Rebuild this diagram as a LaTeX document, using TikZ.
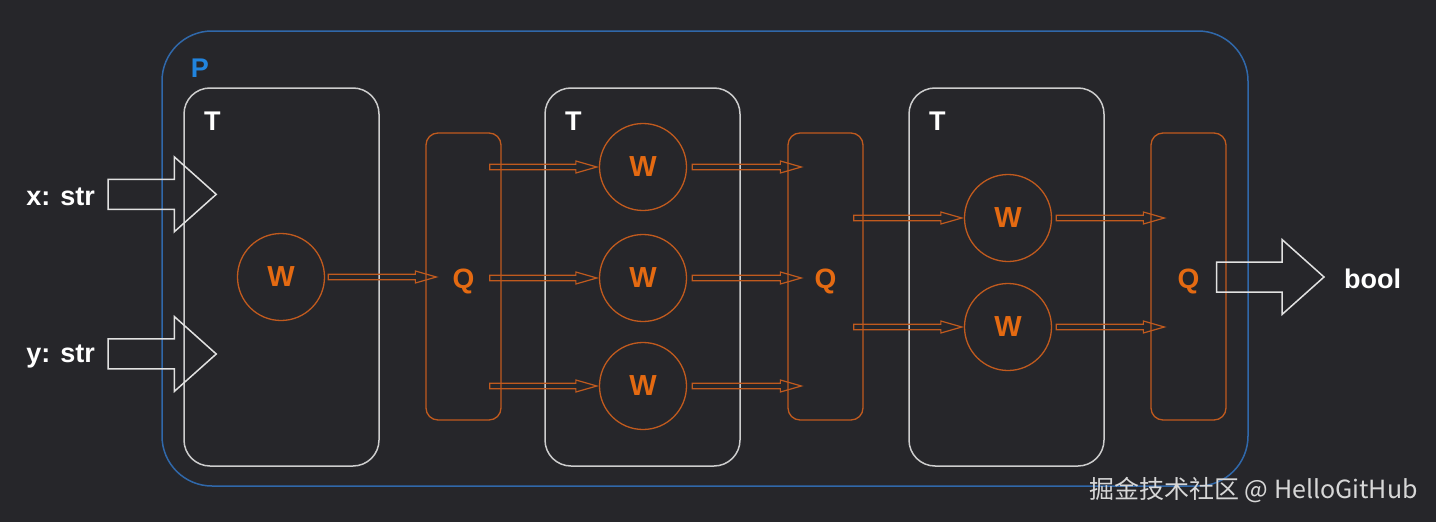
\documentclass[tikz,border=0pt]{standalone}
\usepackage{fontspec}
\setmainfont{Liberation Sans}
\newfontfamily\cjkfont{Noto Sans CJK SC}
\usetikzlibrary{calc}

\definecolor{bgdark}{RGB}{38,38,42}
\definecolor{pblue}{RGB}{48,104,170}
\definecolor{plabel}{RGB}{33,132,222}
\definecolor{tgray}{RGB}{205,205,205}
\definecolor{qorange}{RGB}{192,90,30}
\definecolor{worange}{RGB}{228,106,18}
\definecolor{marktext}{RGB}{215,215,215}

\tikzset{
  lbl/.style={font=\fontsize{27}{30}\selectfont\bfseries, text=white, inner sep=0pt},
  pbox/.style={draw=pblue, line width=1.5pt, rounded corners=50pt,
    minimum width=1086pt, minimum height=455pt},
  tbox/.style={draw=tgray, line width=1.5pt, rounded corners=26pt,
    minimum width=195pt, minimum height=378pt},
  qbox/.style={draw=qorange, line width=1.3pt, rounded corners=12pt,
    minimum width=75pt, minimum height=287pt},
  qlbl/.style={text=worange, font=\fontsize{28}{30}\selectfont\bfseries, inner sep=0pt},
  wnode/.style={circle, draw=qorange, line width=1.3pt, minimum size=87pt,
    text=worange, font=\fontsize{29}{30}\selectfont\bfseries},
  harrow/.style n args={3}{to path={let \p1=(\tikztostart), \p2=(\tikztotarget) in
    (\x1,\y1-#1) -- (\x2-#3,\y1-#1) -- (\x2-#3,\y1-#2) -- (\x2,\y1)
    -- (\x2-#3,\y1+#2) -- (\x2-#3,\y1+#1) -- (\x1,\y1+#1) -- cycle}},
  smallarr/.style={draw=qorange, line width=1.2pt, harrow={2.75pt}{6pt}{21pt}},
  bigarr/.style={draw=tgray!60!white, line width=1.5pt, harrow={15pt}{37.5pt}{42pt}},
}

\begin{document}
\begin{tikzpicture}[x=1pt, y=-1pt]
  \useasboundingbox (0,0) rectangle (1436,522);
  \fill[bgdark] (0,0) rectangle (1436,522);
  % Outer P box
  \node[pbox] (p) at (705,258.5) {};
  \node[lbl, text=plabel] (plbl) at (200,68) {P};
  % T boxes
  \foreach \n/\x in {1/281.5, 2/642.5, 3/1006.5} {
    \node[tbox] (t\n) at (\x,277) {};
    \node[lbl] (t\n lbl) at ([shift={(29,34)}]t\n.north west) {T};
  }
  % Q boxes
  \foreach \n/\x in {1/463.5, 2/825.5, 3/1188.5} {
    \node[qbox] (q\n) at (\x,276.5) {};
    \node[qlbl, anchor=base] (q\n lbl) at (\x,288) {Q};
  }
  % W circles
  \node[wnode] (w1) at (281,277) {W};
  \node[wnode] (w2a) at (643,167) {W};
  \node[wnode] (w2b) at (643,278) {W};
  \node[wnode] (w2c) at (643,386) {W};
  \node[wnode] (w3a) at (1008,218) {W};
  \node[wnode] (w3b) at (1008,327) {W};
  % Small arrows
  \draw[smallarr] ([xshift=3pt]w1.east) to ($(w1 -| q1.west)+(11,0)$);
  \foreach \w in {w2a, w2b, w2c} {
    \draw[smallarr] ($(\w -| q1.east)+(-12,0)$) to ([xshift=-2pt]\w.west);
    \draw[smallarr] ([xshift=5pt]\w.east) to ($(\w -| q2.west)+(14,0)$);
  }
  \foreach \w in {w3a, w3b} {
    \draw[smallarr] ($(\w -| q2.east)+(-10,0)$) to ([xshift=-2pt]\w.west);
    \draw[smallarr] ([xshift=4pt]\w.east) to ($(\w -| q3.west)+(14,0)$);
  }
  % Inputs and output
  \node[lbl, anchor=base east] (xin) at (95,205) {x: str};
  \node[lbl, anchor=base east] (yin) at (95,362) {y: str};
  \node[lbl, anchor=base west] (bool) at (1344,288) {bool};
  \draw[bigarr] ($(xin.east)+(13,-2)$) to ($(xin.east -| t1.west)+(33,-2)$);
  \draw[bigarr] ($(yin.east)+(13,-2)$) to ($(yin.east -| t1.west)+(33,-2)$);
  \draw[bigarr] ($(q3.east)+(-10,0.5)$) to ($(q3.east -| bool.west)+(-20,0.5)$);
  % Watermark
  \node[font=\cjkfont\fontsize{25}{27}\selectfont, text=marktext, anchor=east, inner sep=0pt]
    (mark) at (1418,490) {掘金技术社区 @ HelloGitHub};
\end{tikzpicture}
\end{document}
